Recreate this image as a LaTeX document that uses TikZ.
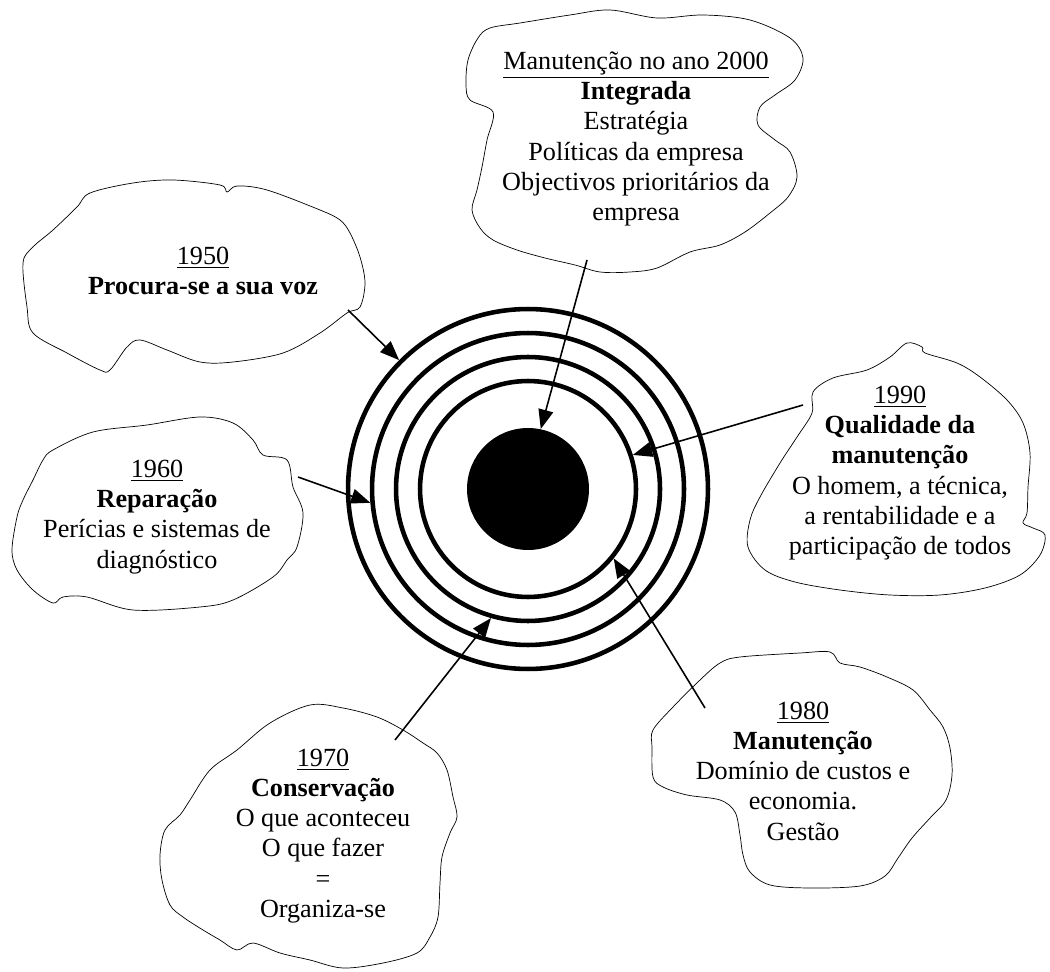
\documentclass[tikz,border=0pt]{standalone}
\usepackage{fontspec}
\setmainfont{Liberation Serif}
\usetikzlibrary{arrows.meta}

\begin{document}
\begin{tikzpicture}[x=0.02cm, y=-0.02cm,
    blob/.style={draw, line width=1.1pt, smooth cycle, tension=0.55},
    ring/.style={draw, circle, line width=2.6pt, inner sep=0pt},
    blobtext/.style={align=center, inner sep=0pt, font=\fontsize{14.9}{17.2}\selectfont},
    pointer/.style={-{Triangle[length=11pt,width=8.5pt]}, line width=0.9pt}]
    \useasboundingbox (0,0) rectangle (1050,972);
    	% Target in the middle:
    	\coordinate (c) at (528,489);
    	\node[ring, minimum size=7.2cm] (ring4) at (c){};
    	\node[ring, minimum size=6.24cm] (ring3) at (c){};
    	\node[ring, minimum size=5.28cm] (ring2) at (c){};
    	\node[ring, minimum size=4.32cm] (ring1) at (c){};
    	\node[circle, fill, inner sep=0pt, minimum size=2.44cm] (core) at (c){};
    	% Clouds:
    	\draw plot[blob] coordinates {(90,193) (133,183) (173,180) (220,185) (227,192) (237,186) (267,190) (320,210) (340,220) (350,233) (360,257) (365,283) (360,307) (347,313) (320,333) (283,353) (233,362) (200,362) (167,350) (140,340) (127,347) (110,370) (100,370) (67,353) (33,333) (27,307) (23,263) (33,247) (53,230) (77,207)};
    	\draw plot[blob] coordinates {(43,460) (53,450) (93,432) (147,425) (200,417) (233,423) (253,440) (263,455) (287,460) (293,487) (303,513) (297,547) (287,560) (273,577) (233,600) (200,607) (133,610) (87,597) (63,597) (53,603) (33,590) (17,570) (12,550) (17,517) (23,500) (33,480)};
    	\draw plot[blob] coordinates {(310,705) (343,708) (377,717) (403,730) (423,743) (437,753) (447,770) (453,797) (457,817) (450,833) (442,857) (440,883) (438,917) (430,937) (417,953) (383,963) (343,968) (310,960) (280,953) (253,943) (237,950) (220,940) (203,930) (183,917) (170,905) (162,880) (160,855) (165,830) (180,815) (190,800) (210,770) (237,750) (270,723)};
    	\draw plot[blob] coordinates {(653,730) (673,707) (700,680) (720,663) (740,657) (800,653) (830,652) (840,663) (860,667) (887,677) (913,690) (930,710) (943,727) (950,748) (952,775) (946,800) (930,818) (912,838) (898,858) (885,876) (860,886) (810,888) (770,885) (750,872) (743,855) (740,835) (735,812) (720,800) (687,795) (663,787) (653,777) (652,747)};
    	\draw plot[blob] coordinates {(907,343) (922,347) (925,353) (957,363) (980,377) (1007,400) (1023,423) (1030,453) (1028,487) (1027,513) (1023,523) (1033,528) (1045,535) (1040,555) (1020,575) (985,588) (940,595) (890,595) (840,590) (795,582) (765,570) (748,547) (750,520) (760,497) (780,463) (797,437) (812,413) (813,392) (833,378) (867,370) (890,357)};
    	\draw plot[blob] coordinates {(490,28) (520,23) (570,15) (610,10) (657,18) (703,15) (750,20) (790,38) (803,58) (795,80) (775,95) (760,107) (758,125) (775,140) (790,152) (797,177) (788,197) (770,213) (745,232) (720,245) (690,252) (657,268) (630,272) (600,272) (575,265) (545,258) (517,250) (493,240) (480,228) (472,210) (477,190) (482,167) (487,140) (493,112) (470,100) (466,85) (468,60) (478,38)};
    	% Texts:
    	\node[blobtext] (t1950) at (203,271){\underline{1950}\\\textbf{Procura-se a sua voz}};
    	\node[blobtext] (t1960) at (157,517){\underline{1960}\\\textbf{Reparação}\\Perícias e sistemas de\\diagnóstico};
    	\node[blobtext] (t1970) at (323,836){\underline{1970}\\\textbf{Conservação}\\O que aconteceu\\O que fazer\\=\\Organiza-se};
    	\node[blobtext] (t1980) at (803,771){\underline{1980}\\\textbf{Manutenção}\\Domínio de custos e\\economia.\\Gestão};
    	\node[blobtext] (t1990) at (900,473){\underline{1990}\\\textbf{Qualidade da}\\\textbf{manutenção}\\O homem, a técnica,\\a rentabilidade e a\\participação de todos};
    	\node[blobtext] (t2000) at (636,139){\underline{Manutenção no ano 2000}\\\textbf{Integrada}\\Estratégia\\Políticas da empresa\\Objectivos prioritários da\\empresa};
    	% Arrows:
    	\coordinate (s1950) at (348,310);
    	\coordinate (s1960) at (298,477);
    	\coordinate (s1970) at (395,740);
    	\coordinate (s1980) at (705,708);
    	\coordinate (s1990) at (803,405);
    	\coordinate (s2000) at (587,260);
    	\draw[pointer] (s1950) -- (ring4.135);
    	\draw[pointer] (s1960) -- (ring3.185);
    	\draw[pointer] (s1970) -- (ring2.254);
    	\draw[pointer] (s1980) -- (ring1.321);
    	\draw[pointer] (s1990) -- (ring1.18);
    	\draw[pointer] (s2000) -- (core.78);
    \end{tikzpicture}
\end{document}
